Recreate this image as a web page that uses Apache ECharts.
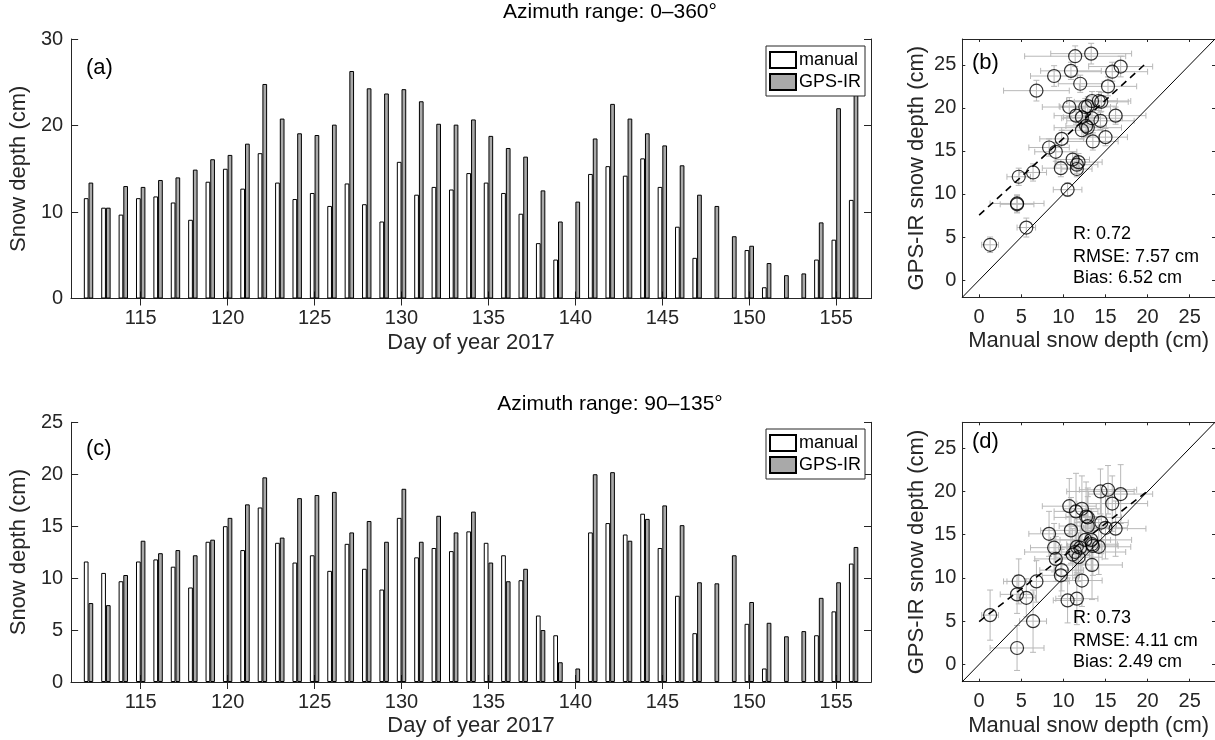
<!DOCTYPE html>
<html>
<head>
<meta charset="utf-8">
<script src="https://cdn.jsdelivr.net/npm/echarts@6/dist/echarts.min.js"></script>
<style>
html,body{margin:0;padding:0;background:#fff;}
#chart{width:1215px;height:740px;}
</style>
</head>
<body>
<div id="chart"></div>
<script>
// ---------- DATA ----------
const days = [112,113,114,115,116,117,118,119,120,121,122,123,124,125,126,127,128,129,130,131,132,133,134,135,136,137,138,139,140,141,142,143,144,145,146,147,148,149,150,151,152,153,154,155,156];
const manualDepth = [11.6,10.5,9.7,11.6,11.8,11.1,9.1,13.5,15.0,12.7,16.8,13.4,11.5,12.2,10.7,13.3,10.9,8.9,15.8,12.0,12.9,12.6,14.5,13.4,12.2,9.8,6.4,4.5,null,14.4,15.3,14.2,16.2,12.9,8.3,4.7,null,null,5.6,1.3,null,null,4.5,6.8,11.4];
const gpsAll = [13.4,10.5,13.0,12.9,13.7,14.0,14.9,16.1,16.6,17.9,24.8,20.8,19.1,18.9,20.1,26.3,24.3,23.7,24.2,22.8,20.2,20.1,20.7,18.8,17.4,16.4,12.5,8.9,11.2,18.5,22.5,20.8,19.1,17.7,15.4,12.0,10.7,7.2,6.1,4.1,2.7,2.9,8.8,22.0,26.0];
const gpsSector = [7.6,7.4,10.3,13.6,12.4,12.7,12.2,13.7,15.8,17.1,19.7,13.9,17.7,18.0,18.3,14.4,15.5,13.5,18.6,13.5,16.0,14.4,16.4,11.5,9.7,10.9,5.0,1.9,1.3,20.0,20.2,13.6,15.7,17.0,15.1,9.6,9.5,12.2,7.7,5.7,4.4,4.9,8.1,9.6,13.0];
// error bar half-widths
const manualErr = [2.5,1.7,2.2,1.8,2.8,2.0,2.5,3.0,2.6,2.4,3.8,3.0,2.6,2.2,3.2,4.8,3.6,2.8,4.2,2.6,3.4,3.0,3.2,3.6,2.4,2.6,1.6,3.2,null,4.0,3.4,3.8,3.6,4.0,2.4,1.4,null,null,1.1,1.0,null,null,2.0,3.9,6.0];
const gpsAllErr = [1.0,0.8,1.0,0.9,1.0,0.9,1.1,1.0,1.0,1.1,1.2,1.1,1.0,1.0,1.1,1.2,1.0,1.2,1.1,1.0,1.1,1.0,1.1,1.0,1.0,1.0,1.0,1.0,1.0,1.0,1.1,1.1,1.0,1.0,1.0,1.0,1.0,1.0,1.1,0.9,1.0,1.0,1.0,1.2,1.2];
const gpsSectorErr = [3.0,2.6,2.4,3.2,2.8,3.0,2.6,3.4,3.6,4.0,3.4,3.0,4.4,3.8,3.2,3.6,3.8,2.8,3.2,3.0,3.4,2.8,3.6,4.0,3.0,2.4,3.6,2.6,2.0,2.6,2.8,3.2,3.2,3.4,2.6,2.6,2.0,2.5,2.2,2.9,2.0,2.0,2.2,2.4,3.0];
// fitted regression lines (intercept, slope) and stats
const fitAll = {intercept: 7.55, slope: 0.89};
const fitSector = {intercept: 4.96, slope: 0.755};
const statsAll = ['R: 0.72', 'RMSE: 7.57 cm', 'Bias: 6.52 cm'];
const statsSector = ['R: 0.73', 'RMSE: 4.11 cm', 'Bias: 2.49 cm'];
const dayAxis = [111,112,113,114,115,116,117,118,119,120,121,122,123,124,125,126,127,128,129,130,131,132,133,134,135,136,137,138,139,140,141,142,143,144,145,146,147,148,149,150,151,152,153,154,155,156,157];
const scatterTicks = [0,5,10,15,20,25];

// ---------- BUILD ----------
const FONT = 'Liberation Sans';
const AX = '#262626';
function padDays(arr){ return dayAxis.map(d => { const i = days.indexOf(d); return i < 0 ? null : arr[i]; }); }
function pairs(yArr, yErr){
  const pts = [], err = [];
  days.forEach((d,i) => {
    if (manualDepth[i] == null || yArr[i] == null) return;
    pts.push([manualDepth[i], yArr[i]]);
    err.push([manualDepth[i], yArr[i], manualErr[i], yErr[i]]);
  });
  return {pts, err};
}
const pa = pairs(gpsAll, gpsAllErr);
const pc = pairs(gpsSector, gpsSectorErr);

const grids = [
  {left: 68, top: 39, width: 803, height: 259.5},
  {left: 68, top: 422.3, width: 803, height: 259.7},
  {left: 962.3, top: 39, width: 254, height: 258.3},
  {left: 962.3, top: 422.3, width: 254, height: 259.4}
];
const tickFont = {fontFamily: FONT, fontSize: 20, color: AX};
const nameFont = {fontFamily: FONT, fontSize: 22, color: AX};
const tickFn = (idx, val) => (+val) % 5 === 0;

function catAxis(grid, pos, showLabel){
  return {
    type: 'category', gridIndex: grid, position: pos, data: dayAxis.map(String), boundaryGap: false,
    axisLine: {show: true, lineStyle: {color: AX, width: 1}},
    axisTick: {show: true, inside: true, length: 7, interval: tickFn, lineStyle: {color: AX}},
    axisLabel: {show: showLabel, interval: tickFn, margin: 10, ...tickFont},
    splitLine: {show: false},
    name: showLabel ? 'Day of year 2017' : '', nameLocation: 'middle', nameGap: 33, nameTextStyle: nameFont
  };
}
function barYAxis(grid, pos, max, interval, showLabel){
  return {
    type: 'value', gridIndex: grid, position: pos, min: 0, max: max, interval: interval,
    axisLine: {show: true, lineStyle: {color: AX}},
    axisTick: {show: true, inside: true, length: 7, lineStyle: {color: AX}},
    axisLabel: {show: showLabel, margin: 8, ...tickFont},
    splitLine: {show: false},
    name: showLabel ? 'Snow depth (cm)' : '', nameLocation: 'middle', nameGap: 30, nameTextStyle: nameFont
  };
}
function scAxis(grid, pos, showLabel, name, gap){
  return {
    type: 'value', gridIndex: grid, position: pos, min: -2, max: 28,
    axisLine: {show: true, onZero: false, lineStyle: {color: AX}},
    axisTick: {show: true, inside: true, length: 3, customValues: scatterTicks, lineStyle: {color: AX}},
    axisLabel: {show: showLabel, customValues: scatterTicks, margin: pos === 'left' ? 6 : 10, ...tickFont},
    splitLine: {show: false},
    name: showLabel ? name : '', nameLocation: 'middle', nameGap: gap, nameTextStyle: nameFont
  };
}

const xAxes = [
  catAxis(0,'bottom',true), catAxis(0,'top',false),
  catAxis(1,'bottom',true), catAxis(1,'top',false),
  scAxis(2,'bottom',true,'Manual snow depth (cm)',33), scAxis(2,'top',false),
  scAxis(3,'bottom',true,'Manual snow depth (cm)',33), scAxis(3,'top',false)
];
const yAxes = [
  barYAxis(0,'left',30,10,true), barYAxis(0,'right',30,10,false),
  barYAxis(1,'left',25,5,true), barYAxis(1,'right',25,5,false),
  scAxis(2,'left',true,'GPS-IR snow depth (cm)',34), scAxis(2,'right',false),
  scAxis(3,'left',true,'GPS-IR snow depth (cm)',34), scAxis(3,'right',false)
];

const whiteStyle = {color: '#ffffff', borderColor: '#000000', borderWidth: 1};
const grayStyle = {color: '#a9a9a9', borderColor: '#000000', borderWidth: 1};
function barSeries(name, data, xi, style){
  return {type: 'bar', name, data, xAxisIndex: xi, yAxisIndex: xi, barWidth: 4.7, barGap: '0%',
    itemStyle: style, emphasis: {disabled: true}, animation: false};
}
function errSeries(data, xi){
  return {
    type: 'custom', xAxisIndex: xi, yAxisIndex: xi, data, animation: false, silent: true, z: 2,
    renderItem: function(params, api){
      const x = api.value(0), y = api.value(1), ex = api.value(2), ey = api.value(3);
      const l = api.coord([x-ex, y]), r = api.coord([x+ex, y]);
      const t = api.coord([x, y+ey]), b = api.coord([x, y-ey]);
      const c = 3;
      const st = {stroke: '#b8b8b8', lineWidth: 1};
      const ln = (x1,y1,x2,y2) => ({type: 'line', shape: {x1,y1,x2,y2}, style: st});
      return {type: 'group', children: [
        ln(l[0], l[1], r[0], r[1]),
        ln(l[0], l[1]-c, l[0], l[1]+c),
        ln(r[0], r[1]-c, r[0], r[1]+c),
        ln(t[0], t[1], b[0], b[1]),
        ln(t[0]-c, t[1], t[0]+c, t[1]),
        ln(b[0]-c, b[1], b[0]+c, b[1])
      ]};
    }
  };
}
function ptSeries(data, xi){
  return {type: 'scatter', data, xAxisIndex: xi, yAxisIndex: xi, symbol: 'circle', symbolSize: 13, z: 4,
    itemStyle: {color: 'rgba(0,0,0,0)', borderColor: '#000', borderWidth: 1.2}, animation: false, silent: true};
}
function lineSeries(data, xi, style){
  return {type: 'line', data, xAxisIndex: xi, yAxisIndex: xi, symbol: 'none', lineStyle: style, z: 3, animation: false, silent: true, clip: true};
}

const series = [
  barSeries('manual', padDays(manualDepth), 0, whiteStyle),
  barSeries('GPS-IR', padDays(gpsAll), 0, grayStyle),
  barSeries('manual', padDays(manualDepth), 2, whiteStyle),
  barSeries('GPS-IR', padDays(gpsSector), 2, grayStyle),
  lineSeries([[-2,-2],[28,28]], 4, {color: '#000', width: 1}),
  lineSeries([[0, fitAll.intercept],[20, fitAll.intercept + 20*fitAll.slope]], 4, {color: '#000', width: 1.6, type: [7,5]}),
  errSeries(pa.err, 4),
  ptSeries(pa.pts, 4),
  lineSeries([[-2,-2],[28,28]], 6, {color: '#000', width: 1}),
  lineSeries([[0, fitSector.intercept],[20, fitSector.intercept + 20*fitSector.slope]], 6, {color: '#000', width: 1.6, type: [7,5]}),
  errSeries(pc.err, 6),
  ptSeries(pc.pts, 6)
];

function legendAt(top){
  return {
    show: true, left: 766, top: top, orient: 'vertical', data: ['manual','GPS-IR'],
    icon: 'rect', itemWidth: 26, itemHeight: 16, itemGap: 4, padding: [5,4,5,3],
    borderColor: AX, borderWidth: 1, backgroundColor: '#fff', selectedMode: false,
    textStyle: {fontFamily: FONT, fontSize: 18, color: '#000', padding: [0,0,0,-2]}
  };
}

const graphics = [
  {type: 'text', x: 86, y: 68, style: {text: '(a)', fontFamily: FONT, fontSize: 22, fill: '#000', textVerticalAlign: 'middle'}, z: 10},
  {type: 'text', x: 86, y: 449, style: {text: '(c)', fontFamily: FONT, fontSize: 22, fill: '#000', textVerticalAlign: 'middle'}, z: 10},
  {type: 'text', x: 972, y: 63, style: {text: '(b)', fontFamily: FONT, fontSize: 22, fill: '#000', textVerticalAlign: 'middle'}, z: 10},
  {type: 'text', x: 972, y: 442, style: {text: '(d)', fontFamily: FONT, fontSize: 22, fill: '#000', textVerticalAlign: 'middle'}, z: 10},
  {type: 'text', x: 610, y: 12, style: {text: 'Azimuth range: 0–360°', fontFamily: FONT, fontSize: 21, fill: '#000', textAlign: 'center', textVerticalAlign: 'middle'}, z: 10},
  {type: 'text', x: 610, y: 404, style: {text: 'Azimuth range: 90–135°', fontFamily: FONT, fontSize: 21, fill: '#000', textAlign: 'center', textVerticalAlign: 'middle'}, z: 10}
];
const statY1 = [234, 256.7, 278.3], statY2 = [618.3, 641, 661.7];
statsAll.forEach((s,i) => graphics.push({type: 'text', x: 1073, y: statY1[i], style: {text: s, fontFamily: FONT, fontSize: 18, fill: '#000', textVerticalAlign: 'middle'}, z: 10}));
statsSector.forEach((s,i) => graphics.push({type: 'text', x: 1073, y: statY2[i], style: {text: s, fontFamily: FONT, fontSize: 18, fill: '#000', textVerticalAlign: 'middle'}, z: 10}));

const chart = echarts.init(document.getElementById('chart'), null, {renderer: 'canvas'});
chart.setOption({
  backgroundColor: '#fff',
  animation: false,
  grid: grids,
  xAxis: xAxes,
  yAxis: yAxes,
  legend: [legendAt(46), legendAt(429)],
  series: series,
  graphic: graphics
});
</script>
</body>
</html>
